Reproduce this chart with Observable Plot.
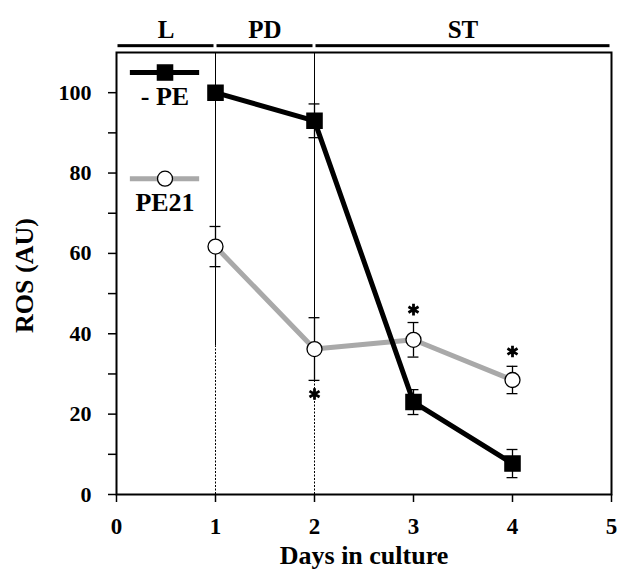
<!DOCTYPE html>
<html><head><meta charset="utf-8">
<script src="https://cdn.jsdelivr.net/npm/d3@7"></script>
<script src="https://cdn.jsdelivr.net/npm/@observablehq/plot@0.6"></script>
<style>body{margin:0;background:#fff}</style>
</head><body><div id="chart"></div>
<script>
// Data
const days = [1, 2, 3, 4];
const pe = [100, 93, 23, 7.7];
const peErr = [0, 4.2, 3.1, 3.5];
const pe21 = [61.7, 36.2, 38.5, 28.5];
const pe21Err = [5, 7.8, 4.3, 3.4];
const starDays = [2, 3, 4];
const starValues = [25, 46, 35.6];
const phases = ["L", "PD", "ST"];
const phaseStart = [0, 1, 2];
const phaseEnd = [1, 2, 5];
const boundaryDays = [1, 2];
const boundarySplit = [37, 36];
const xTicks = [0, 1, 2, 3, 4, 5];
const yTicks = [0, 20, 40, 60, 80, 100];
const yMinor = [10, 30, 50, 70, 90];
const seriesNames = ["- PE", "PE21"];

const FONT = "'Liberation Serif', 'Times New Roman', Times, serif";
const BLACK = "#000";
const GRAY = "#a9a9a9";

const peData = days.map((d, i) => ({day: d, v: pe[i], e: peErr[i]}));
const pe21Data = days.map((d, i) => ({day: d, v: pe21[i], e: pe21Err[i]}));
const stars = starDays.map((d, i) => ({day: d, v: starValues[i]}));
const phaseData = phases.map((p, i) => ({p, a: phaseStart[i], b: phaseEnd[i]}));
const bounds = boundaryDays.map((d, i) => ({day: d, s: boundarySplit[i]}));
const cap = 0.055;
const errMarks = (data, color) => [
  Plot.ruleX(data.filter(d => d.e > 0), {x: "day", y1: d => d.v - d.e, y2: d => d.v + d.e, stroke: color, strokeWidth: 1.3}),
  Plot.ruleY(data.filter(d => d.e > 0), {y: d => d.v + d.e, x1: d => d.day - cap, x2: d => d.day + cap, stroke: color, strokeWidth: 1.3}),
  Plot.ruleY(data.filter(d => d.e > 0), {y: d => d.v - d.e, x1: d => d.day - cap, x2: d => d.day + cap, stroke: color, strokeWidth: 1.3})
];

const legendPE = [{name: seriesNames[0], ly: 105, ty: 98.9}];
const legendPE21 = [{name: seriesNames[1], ly: 78.6, ty: 72.6}];

const chart = Plot.plot({
  width: 623, height: 571,
  marginLeft: 116, marginRight: 12, marginTop: 52, marginBottom: 77,
  style: {fontFamily: FONT, fontWeight: "bold", background: "#fff", color: "#000", overflow: "visible"},
  x: {domain: [0, 5]},
  y: {domain: [0, 110]},
  marks: [
    // phase boundary lines
    Plot.ruleX(bounds, {x: "day", y1: "s", y2: 110, stroke: "#000", strokeWidth: 1}),
    Plot.ruleX(bounds, {x: "day", y1: 0, y2: "s", stroke: "#000", strokeWidth: 1, strokeDasharray: "2,1.5"}),
    // phase bars & labels
    Plot.rect(phaseData, {x1: "a", x2: "b", y1: 111.2, y2: 111.95, fill: "#000", insetLeft: 1.5, insetRight: 1.5}),
    Plot.text(phaseData, {x: d => (d.a + d.b) / 2, y: 115.6, text: "p", fontSize: 25, fontWeight: "bold", fill: "#000"}),
    // axes
    Plot.axisY({ticks: yTicks, tickFormat: "d", tickSize: 8, tickPadding: 17, fontSize: 22, fontWeight: "bold", label: null, strokeWidth: 1.5}),
    Plot.axisY({ticks: yMinor, tickSize: 8, text: null, label: null, strokeWidth: 1.5}),
    Plot.axisX({ticks: xTicks, tickFormat: "d", tickSize: 8, tickPadding: 15, fontSize: 23, fontWeight: "bold", label: null, strokeWidth: 1.5}),
    Plot.frame({stroke: "#000", strokeWidth: 2}),
    Plot.text(["ROS (AU)"], {frameAnchor: "left", textAnchor: "middle", dx: -92, dy: 2, rotate: -90, fontSize: 26, fontWeight: "bold", fill: "#000"}),
    Plot.text(["Days in culture"], {frameAnchor: "bottom", dy: 69, fontSize: 26, fontWeight: "bold", fill: "#000"}),
    // error bars
    ...errMarks(pe21Data, "#000"),
    ...errMarks(peData, "#000"),
    // lines
    Plot.line(pe21Data, {x: "day", y: "v", stroke: GRAY, strokeWidth: 5}),
    Plot.line(peData, {x: "day", y: "v", stroke: BLACK, strokeWidth: 5}),
    // markers
    Plot.dot(pe21Data, {x: "day", y: "v", r: 7.5, fill: "#fff", stroke: "#000", strokeWidth: 1.3}),
    Plot.dot(peData, {x: "day", y: "v", symbol: "square", r: 8.5, fill: "#000", stroke: "#000"}),
    Plot.dot(stars, {x: "day", y: "v", symbol: "asterisk", r: 5.5, stroke: "#000", strokeWidth: 2.8}),
    // legend
    Plot.ruleY(legendPE, {y: "ly", x1: 0.14, x2: 0.84, stroke: BLACK, strokeWidth: 5}),
    Plot.dot(legendPE, {x: 0.49, y: "ly", symbol: "square", r: 8.5, fill: "#000", stroke: "#000"}),
    Plot.text(legendPE, {x: 0.49, y: "ty", text: "name", fontSize: 26, fontWeight: "bold", fill: "#000"}),
    Plot.ruleY(legendPE21, {y: "ly", x1: 0.14, x2: 0.84, stroke: GRAY, strokeWidth: 5}),
    Plot.dot(legendPE21, {x: 0.49, y: "ly", r: 7.5, fill: "#fff", stroke: "#000", strokeWidth: 1.3}),
    Plot.text(legendPE21, {x: 0.49, y: "ty", text: "name", fontSize: 26, fontWeight: "bold", fill: "#000"})
  ]
});
document.getElementById("chart").appendChild(chart);
</script>
</body></html>
